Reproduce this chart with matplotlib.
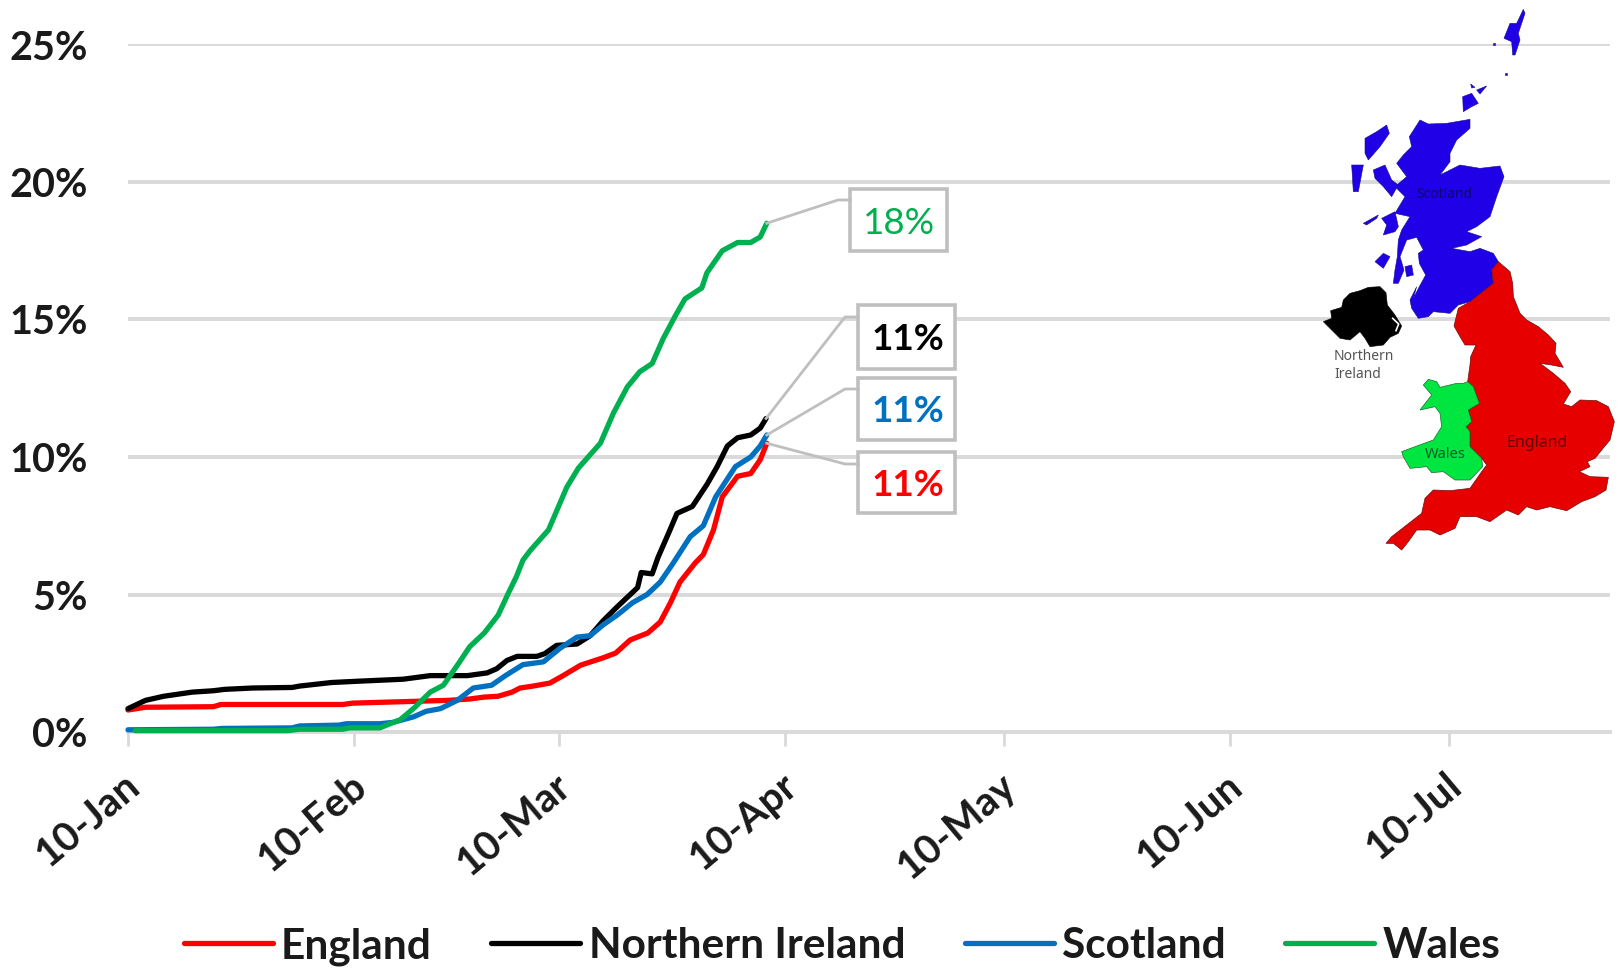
import numpy as np
import matplotlib
matplotlib.use("Agg")
import matplotlib.pyplot as plt
from matplotlib.transforms import ScaledTranslation

plt.rcParams['font.family'] = ['Lato', 'DejaVu Sans']

# days counted from 10-Jan, values in percent
england_days = [0, 2.4, 11.7, 12.7, 29.4, 30.8, 43.8, 46.8, 48.8, 50.7, 52.6, 53.7, 55.5, 57.8, 59.6, 62, 65.1, 66.8, 68.8, 71.2, 72.9, 74.3, 75.6, 77.7, 78.8, 80.2, 81.4, 83.5, 85.3, 86.6, 87.5]
england_vals = [0.8, 0.9, 0.92, 1.0, 1.0, 1.05, 1.15, 1.2, 1.27, 1.3, 1.45, 1.6, 1.67, 1.78, 2.05, 2.43, 2.7, 2.87, 3.35, 3.6, 4.0, 4.7, 5.45, 6.15, 6.45, 7.35, 8.55, 9.3, 9.4, 9.9, 10.5]

ni_days = [0, 2.4, 4.9, 8.8, 11.7, 13.2, 17.1, 22.5, 23.5, 27.9, 31.8, 37.7, 41.4, 46.5, 49.2, 50.5, 51.9, 53.3, 56, 57.1, 58.7, 61.5, 63.3, 65.1, 67, 68.4, 69.8, 70.3, 71.8, 72.6, 74, 75.2, 77.3, 79.3, 80.7, 82.1, 83.5, 85.3, 86.6, 87.4]
ni_vals = [0.85, 1.15, 1.3, 1.45, 1.5, 1.55, 1.6, 1.62, 1.67, 1.8, 1.85, 1.92, 2.05, 2.05, 2.15, 2.3, 2.6, 2.75, 2.75, 2.85, 3.15, 3.2, 3.5, 4.05, 4.55, 4.9, 5.25, 5.8, 5.75, 6.35, 7.2, 7.95, 8.2, 9.0, 9.65, 10.4, 10.7, 10.8, 11.05, 11.4]

scotland_days = [0, 11.7, 12.9, 22.5, 23.5, 28.9, 29.9, 34.5, 36.3, 39.1, 40.8, 42.8, 45.1, 47.3, 49.8, 51.7, 54.1, 56.9, 59.2, 61.5, 63.3, 65.1, 67, 69.1, 71.1, 72.9, 74.7, 77, 78.8, 80.5, 83.2, 85.3, 86.6, 87.5]
scotland_vals = [0.08, 0.1, 0.13, 0.15, 0.22, 0.25, 0.3, 0.3, 0.35, 0.55, 0.75, 0.85, 1.15, 1.6, 1.7, 2.05, 2.45, 2.55, 3.05, 3.45, 3.5, 3.9, 4.25, 4.7, 5.0, 5.45, 6.15, 7.1, 7.5, 8.55, 9.65, 10.0, 10.4, 10.8]

wales_days = [1, 21.9, 23.5, 29.4, 30.4, 34.5, 37.3, 39.3, 41.4, 43.2, 45.3, 46.8, 48.8, 50.7, 52.1, 53.2, 54.1, 55.1, 57.6, 60.1, 61.7, 64.7, 66.5, 68.4, 70.1, 71.8, 73.3, 74.9, 76.3, 78.6, 79.3, 81.4, 83.5, 85.3, 86.6, 87.5]
wales_vals = [0.05, 0.05, 0.1, 0.1, 0.15, 0.15, 0.45, 0.9, 1.45, 1.7, 2.5, 3.1, 3.6, 4.25, 5.05, 5.65, 6.25, 6.6, 7.35, 8.9, 9.6, 10.5, 11.6, 12.55, 13.1, 13.4, 14.3, 15.1, 15.75, 16.15, 16.7, 17.5, 17.8, 17.8, 18.0, 18.5]

names = ['England', 'Northern Ireland', 'Scotland', 'Wales']
colors = ['#FF0000', '#000000', '#0070C0', '#00B050']

tick_days = [0, 31, 59, 90, 120, 151, 181]
tick_labels = ['10-Jan', '10-Feb', '10-Mar', '10-Apr', '10-May', '10-Jun', '10-Jul']
y_ticks = [0, 5, 10, 15, 20, 25]

W, H = 1619, 971
fig = plt.figure(figsize=(W / 100, H / 100), dpi=100)
ax = fig.add_axes([128 / W, 1 - 732 / H, (1610 - 128) / W, (732 - 44.5) / H])

series = [(england_days, england_vals), (ni_days, ni_vals), (scotland_days, scotland_vals), (wales_days, wales_vals)]
for (d, v), name, c in zip(series, names, colors):
    ax.plot(d, v, color=c, lw=3.8, label=name, solid_capstyle='round', solid_joinstyle='round', zorder=3, clip_on=False)

ax.set_xlim(0, 203)
ax.set_ylim(0, 25)
ax.set_xticks(tick_days)
ax.set_xticklabels(tick_labels, rotation=40, ha='right', rotation_mode='anchor', fontsize=29, fontweight='bold', color='#1a1a1a')
ax.set_yticks(y_ticks)
ax.set_yticklabels([str(t) + '%' for t in y_ticks], fontsize=28.5, fontweight='bold', color='#1a1a1a')
ax.grid(axis='y', color='#D9D9D9', lw=2.8)
ax.set_axisbelow(True)
for s in ['top', 'right', 'left']:
    ax.spines[s].set_visible(False)
ax.spines['bottom'].set_color('#D9D9D9')
ax.spines['bottom'].set_linewidth(2.8)
ax.tick_params(axis='y', length=0, pad=29)
ax.tick_params(axis='x', length=10, width=2, color='#D9D9D9', pad=15)
for lab in ax.get_xticklabels():
    lab.set_transform(lab.get_transform() + ScaledTranslation(-5 / 100, 0, fig.dpi_scale_trans))

leg = ax.legend(loc='upper center', ncol=4, frameon=False, handlelength=2.1, handletextpad=0.2, columnspacing=1.4,
                labelcolor='#1a1a1a', prop={'weight': 'bold', 'size': 30.5}, borderaxespad=0, borderpad=0)
leg.set_bbox_to_anchor((842 / W, 1 - 927 / H), transform=fig.transFigure)

# pixel overlay for the map and the callouts
ov = fig.add_axes([0, 0, 1, 1], zorder=5)
ov.set_xlim(0, W)
ov.set_ylim(H, 0)
ov.axis('off')
ov.patch.set_alpha(0)


def z1(pts):
    return [(1280 + x / 3, y / 3) for x, y in pts]


def z2(pts):
    return [(1300 + x / 3, 250 + y / 3) for x, y in pts]


england = z2([(595, 35), (630, 65), (638, 100), (640, 140), (660, 190), (680, 210), (715, 230), (745, 255), (768, 280), (765, 310), (790, 352), (755, 345), (720, 340), (760, 370), (795, 400), (812, 425), (790, 462), (815, 470), (840, 450), (890, 452), (925, 470), (943, 515), (930, 570), (905, 600), (885, 625), (862, 635), (870, 650), (838, 665), (870, 680), (925, 682), (918, 720), (885, 740), (845, 755), (800, 782), (750, 770), (710, 780), (680, 770), (655, 795), (620, 780), (570, 815), (530, 800), (480, 800), (465, 835), (420, 855), (390, 840), (350, 840), (325, 875), (305, 900), (280, 880), (258, 880), (275, 860), (320, 825), (365, 790), (375, 745), (400, 720), (450, 722), (510, 715), (545, 665), (560, 645), (545, 625), (510, 590), (510, 545), (498, 530), (515, 515), (505, 480), (538, 460), (520, 410), (503, 395), (510, 345), (512, 320), (528, 285), (495, 285), (480, 260), (462, 228), (475, 175), (510, 155), (580, 100), (575, 60)])
wales = z2([(503, 395), (520, 410), (538, 460), (505, 480), (515, 515), (498, 530), (510, 545), (510, 590), (545, 625), (548, 650), (510, 690), (465, 690), (430, 665), (395, 668), (380, 650), (330, 655), (310, 620), (305, 605), (345, 590), (400, 570), (425, 530), (420, 490), (405, 470), (360, 480), (395, 435), (370, 405), (385, 388), (410, 395), (420, 412), (470, 400), (490, 400)])
n_ireland = z2([(70, 215), (95, 205), (92, 182), (125, 172), (130, 150), (150, 130), (180, 122), (205, 112), (240, 110), (258, 128), (262, 165), (285, 195), (305, 228), (295, 250), (270, 262), (250, 285), (210, 290), (195, 265), (180, 245), (150, 270), (120, 265), (100, 245)])
scot_main = z1([(420, 360), (445, 372), (500, 370), (570, 358), (570, 385), (530, 420), (510, 460), (510, 485), (480, 525), (540, 495), (600, 505), (660, 498), (672, 530), (650, 590), (630, 650), (590, 680), (560, 695), (605, 710), (560, 735), (515, 745), (570, 755), (600, 745), (640, 760), (655, 785)]) \
    + z2([(595, 35), (575, 60), (580, 100), (510, 155), (475, 165), (450, 190), (400, 185), (385, 200), (355, 205), (335, 175), (330, 150), (350, 110)]) \
    + z1([(400, 895), (418, 860), (437, 825), (418, 790), (415, 760), (430, 750), (410, 712), (380, 720), (360, 770), (372, 810), (355, 850), (340, 850), (345, 810), (352, 770), (355, 720), (365, 690), (390, 650), (345, 640), (375, 590), (345, 560), (380, 530), (350, 490), (370, 465), (395, 440), (388, 410)])
scot_islands = [
    [(255, 415), (290, 395), (320, 375), (328, 400), (300, 440), (265, 480), (255, 460)],
    [(215, 495), (250, 495), (235, 575), (220, 575)],
    [(280, 510), (315, 495), (335, 540), (355, 555), (335, 590), (310, 560), (285, 535)],
    [(305, 655), (345, 635), (355, 680), (345, 695), (310, 705), (320, 675)],
    [(250, 670), (295, 645), (290, 655), (260, 675)],
    [(285, 785), (310, 760), (330, 770), (310, 805)],
    [(375, 800), (395, 795), (400, 825), (380, 830)],
    [(548, 290), (575, 280), (595, 310), (575, 320), (550, 335)],
    [(590, 270), (620, 258), (600, 282)],
    [(572, 252), (585, 262), (575, 264)],
    [(690, 70), (710, 70), (730, 28), (735, 40), (715, 100), (720, 120), (705, 165), (698, 165), (695, 125), (672, 115)],
    [(640, 130), (646, 130), (646, 136), (640, 136)],
    [(676, 220), (682, 220), (682, 226), (676, 226)],
]

ov.fill(*zip(*scot_main), color='#2000E6', ec='#15108a', lw=0.4)
for isl in scot_islands:
    ov.fill(*zip(*z1(isl)), color='#2000E6', ec='#15108a', lw=0.4)
ov.fill(*zip(*england), color='#E60000', ec='#6b1010', lw=0.5)
ov.fill(*zip(*wales), color='#00E640', ec='#1a6b30', lw=0.5)
ov.fill(*zip(*n_ireland), color='#000000', ec='#000000', lw=0.4)
ov.plot(*zip(*z2([(278, 205), (296, 222), (288, 242)])), color='white', lw=1.2)

ov.text(1444, 195, 'Scotland', fontsize=10, color='#0c0a70', ha='center', va='center', family='Noto Sans')
ov.text(1537, 443, 'England', fontsize=11.5, color='#660000', ha='center', va='center', family='Noto Sans')
ov.text(1445, 454, 'Wales', fontsize=10.5, color='#0d5a2a', ha='center', va='center', family='Noto Sans')
ov.text(1334, 357, 'Northern', fontsize=10, color='#555555', ha='left', va='center', family='Noto Sans')
ov.text(1334, 375, 'Ireland', fontsize=10, color='#555555', ha='left', va='center', family='Noto Sans')

# callouts: text, colour, weight, box x0, y0, x1, y1, elbow
callouts = [
    ('18%', colors[3], 'normal', (850, 189, 947, 251), (838, 200), series[3]),
    ('11%', colors[1], 'bold', (858, 305, 955, 369), (845, 317), series[1]),
    ('11%', colors[2], 'bold', (858, 378, 955, 440), (845, 389), series[2]),
    ('11%', colors[0], 'bold', (858, 452, 955, 513), (845, 464), series[0]),
]
for txt, c, wt, (x0, y0, x1, y1), elbow, (d, v) in callouts:
    ov.add_patch(plt.Rectangle((x0, y0), x1 - x0, y1 - y0, fc='white', ec='#BFBFBF', lw=2.6))
    ov.text((x0 + x1) / 2 + 1, (y0 + y1) / 2 + 3, txt, color=c, fontsize=26.5, fontweight=wt, ha='center', va='center')
    end = ov.transData.inverted().transform(ax.transData.transform((d[-1], v[-1])))
    ov.plot([end[0], elbow[0], x0], [end[1], elbow[1], elbow[1]], color='#BFBFBF', lw=2, zorder=1)

fig.savefig('out.png', dpi=100)
